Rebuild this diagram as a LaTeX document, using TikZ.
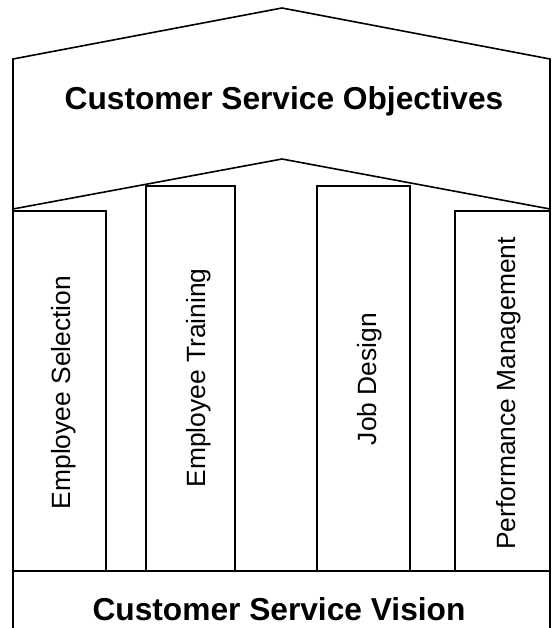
\documentclass[tikz,border=0pt]{standalone}
\usepackage{fontspec}
\setmainfont{Liberation Sans}
\usepackage{tikz}

\begin{document}
\begin{tikzpicture}[x=1pt,y=-1pt,line width=1.6pt,
  pillartext/.style={font=\fontsize{26.4}{30}\selectfont,rotate=90,anchor=base,inner sep=0pt},
  roottext/.style={font=\bfseries\fontsize{31.7}{36}\selectfont,anchor=base,inner sep=0pt}]
  \useasboundingbox (0,0) rectangle (551,628);
  % house outline
  \draw
    (13,628)
    --
    (13,59)
    --
    (282,8)
    --
    (550,59)
    --
    (550,628);
  \draw
    (13,209)
    --
    (282,159)
    --
    (550,209);
  \draw
    (13,571)
    --
    (550,571);
  % pillars
  \draw
    (13,211)
    -|
    (106,571);
  \draw
    (146,571)
    |-
    (235,186)
    --
    (235,571);
  \draw
    (317,571)
    |-
    (410,186)
    --
    (410,571);
  \draw
    (455,571)
    |-
    (550,211);
  % texts
  \node[roottext] (objectives) at (284,110) {Customer Service Objectives};
  \node[roottext] (vision) at (279,620.7) {Customer Service Vision};
  \node[pillartext] (selection) at (70,392.5) {Employee Selection};
  \node[pillartext] (training) at (205,378) {Employee Training};
  \node[pillartext] (jobdesign) at (376,379) {Job Design};
  \node[pillartext] (performance) at (515,393.5) {Performance Management};
\end{tikzpicture}
\end{document}
